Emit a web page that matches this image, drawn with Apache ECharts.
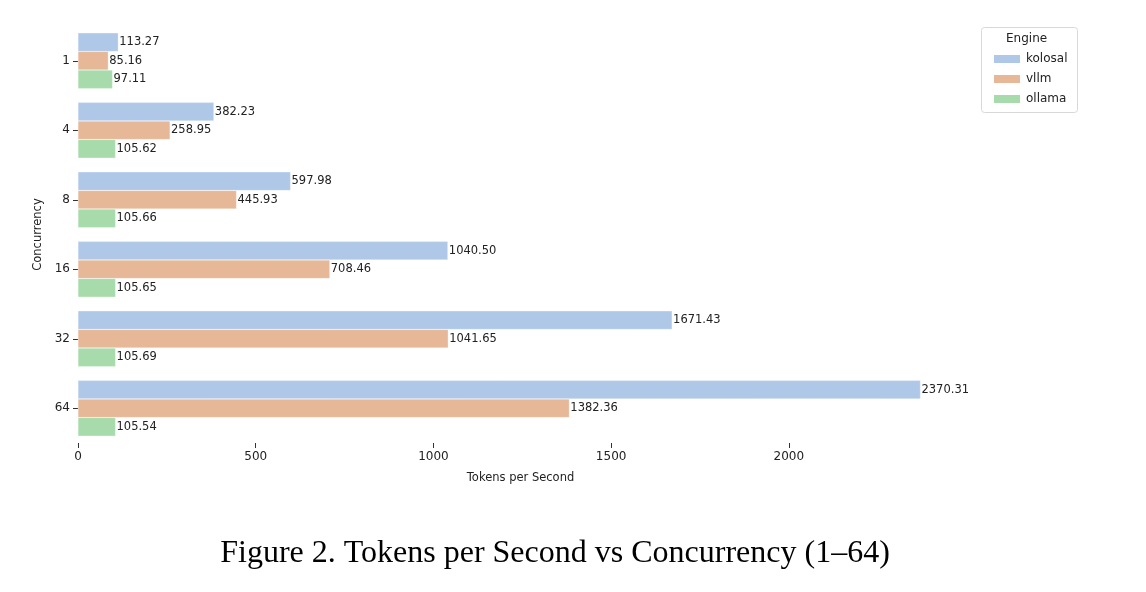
<!DOCTYPE html>
<html><head><meta charset="utf-8">
<script src="https://cdn.jsdelivr.net/npm/echarts@6/dist/echarts.min.js"></script>
<style>html,body{margin:0;padding:0;background:#fff}#c{width:1146px;height:592px}</style>
</head><body><div id="c"></div>
<script>
const categories = ['1', '4', '8', '16', '32', '64'];
const kolosal = [113.27, 382.23, 597.98, 1040.50, 1671.43, 2370.31];
const vllm = [85.16, 258.95, 445.93, 708.46, 1041.65, 1382.36];
const ollama = [97.11, 105.62, 105.66, 105.65, 105.69, 105.54];
const xTicks = [0, 500, 1000, 1500, 2000];
const seriesNames = ['kolosal', 'vllm', 'ollama'];
const colors = ['#b0c8e8', '#e6b898', '#a7dbab'];
const font = 'DejaVu Sans';

const chart = echarts.init(document.getElementById('c'), null, {renderer: 'canvas'});
function mk(name, data, color) {
  return {
    name, type: 'bar', data, barGap: '0%', barCategoryGap: '20%',
    itemStyle: {color, borderColor: '#ffffff', borderWidth: 0.3},
    label: {show: true, position: 'right', distance: 1, fontFamily: font, fontSize: 11.5, color: '#222',
      formatter: p => p.value.toFixed(2)},
    emphasis: {disabled: true}
  };
}
chart.setOption({
  animation: false,
  textStyle: {fontFamily: font},
  grid: {left: 78, right: 183, top: 26, height: 417},
  xAxis: {
    type: 'value', min: 0, max: 2490,
    axisLine: {show: false}, splitLine: {show: false},
    axisTick: {show: true, length: 5, customValues: xTicks, lineStyle: {color: '#333'}},
    axisLabel: {fontFamily: font, fontSize: 12, color: '#222', margin: 8, customValues: xTicks,
      formatter: v => String(v)},
    name: 'Tokens per Second', nameLocation: 'middle', nameGap: 29,
    nameTextStyle: {fontFamily: font, fontSize: 11.5, color: '#222'}
  },
  yAxis: {
    type: 'category', data: categories, inverse: true,
    axisLine: {show: false},
    axisTick: {show: true, length: 5, alignWithLabel: true, lineStyle: {color: '#333'}},
    axisLabel: {fontFamily: font, fontSize: 12, color: '#222', margin: 8},
    name: 'Concurrency', nameLocation: 'middle', nameGap: 34, nameRotate: 90,
    nameTextStyle: {fontFamily: font, fontSize: 11.5, color: '#222'}
  },
  legend: {
    orient: 'vertical', left: 987, top: 48, itemWidth: 28, itemHeight: 10, itemGap: 8,
    icon: 'rect', data: seriesNames,
    textStyle: {fontFamily: font, fontSize: 12, color: '#222'},
    selectedMode: false
  },
  graphic: [
    {type: 'rect', left: 981, top: 27, shape: {width: 96, height: 85, r: 3},
      style: {fill: 'rgba(255,255,255,0.8)', stroke: '#d8d8d8', lineWidth: 1}, z: -1},
    {type: 'text', left: 1006, top: 33, style: {text: 'Engine', fontFamily: font, fontSize: 12, fill: '#222'}},
    {type: 'text', x: 555, y: 554,
      style: {text: 'Figure 2. Tokens per Second vs Concurrency (1–64)', align: 'center', verticalAlign: 'middle',
      fontFamily: 'Liberation Serif', fontSize: 32, fill: '#000'}}
  ],
  series: [mk('kolosal', kolosal, colors[0]), mk('vllm', vllm, colors[1]), mk('ollama', ollama, colors[2])]
});
</script></body></html>
